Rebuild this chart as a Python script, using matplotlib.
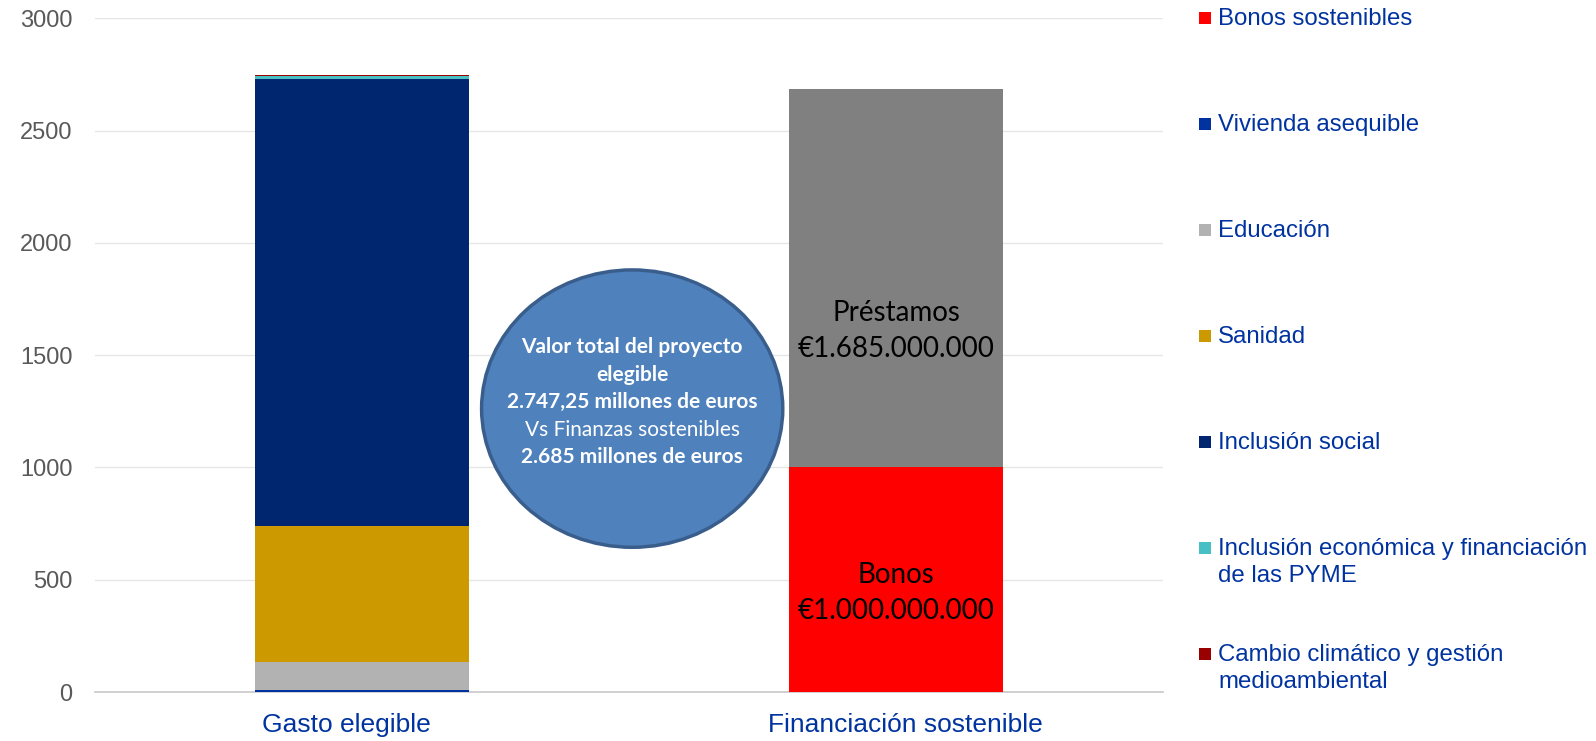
import matplotlib
matplotlib.use("Agg")
import matplotlib.pyplot as plt
from matplotlib.patches import Ellipse, Rectangle

# data
categories = ["Gasto elegible", "Financiación sostenible"]
gasto_labels = ["Vivienda asequible", "Educación", "Sanidad", "Inclusión social",
                "Inclusión económica y financiación\nde las PYME",
                "Cambio climático y gestión\nmedioambiental"]
gasto_values = [8, 125, 605, 1990.25, 15, 4]
gasto_colors = ["#0033A0", "#B2B2B2", "#CC9900", "#00266F", "#48BFC4", "#990000"]

fin_labels = ["Bonos\n€1.000.000.000", "Préstamos\n€1.685.000.000"]
fin_values = [1000, 1685]
fin_colors = ["#FF0000", "#808080"]
fin_label_pos = [0.44, 0.36]  # fraction of segment height for text

legend_labels = ["Bonos sostenibles", "Vivienda asequible", "Educación", "Sanidad",
                 "Inclusión social", "Inclusión económica y financiación\nde las PYME",
                 "Cambio climático y gestión\nmedioambiental"]
legend_colors = ["#FF0000", "#0033A0", "#B2B2B2", "#CC9900", "#00266F", "#48BFC4", "#990000"]

circle_lines = ["Valor total del proyecto", "elegible", "2.747,25 millones de euros",
                "Vs Finanzas sostenibles", "2.685 millones de euros"]
circle_bold = [True, True, True, False, True]

yticks = [0, 500, 1000, 1500, 2000, 2500, 3000]

fig = plt.figure(figsize=(15.96, 7.41), dpi=100)
ax = fig.add_axes([0.0595, 0.0661, 0.6692, 0.9092])

bw = 0.40
bottom = 0
for v, c in zip(gasto_values, gasto_colors):
    ax.bar(0, v, bw, bottom=bottom, color=c, zorder=3)
    bottom += v

bottom = 0
for v, c, lab, f in zip(fin_values, fin_colors, fin_labels, fin_label_pos):
    ax.bar(1, v, bw, bottom=bottom, color=c, zorder=3)
    ax.text(1, bottom + v * f, lab, ha="center", va="center", fontsize=20,
            family="Lato", color="black", zorder=4, linespacing=1.45)
    bottom += v

ax.set_xlim(-0.5, 1.5)
ax.set_ylim(0, 3000)
ax.set_yticks(yticks)
ax.set_xticks([0, 1])
ax.set_xticklabels([])
# category labels, excel puts them a bit off centre
for i, (cat, dx) in enumerate(zip(categories, [-11, 7])):
    ax.annotate(cat, xy=(i, 0), xycoords=("data", "axes fraction"),
                xytext=(dx, -24), textcoords="offset points", ha="center", va="center",
                fontsize=19, color="#0033A0", family="Liberation Sans")
for t in ax.get_yticklabels():
    t.set_fontsize(17)
    t.set_color("#595959")
    t.set_family("Liberation Sans")
ax.tick_params(axis="y", length=0, pad=16)
ax.tick_params(axis="x", length=0)
ax.grid(axis="y", color="#E6E6E6", linewidth=1, zorder=0)
for s in ["top", "right", "left"]:
    ax.spines[s].set_visible(False)
ax.spines["bottom"].set_color("#C8C8C8")
ax.spines["bottom"].set_linewidth(1.2)

# circle annotation
ell = Ellipse((0.506, 1262), 0.564, 1235, facecolor="#4F81BD", edgecolor="#3A5E8C",
              linewidth=2.5, zorder=5)
ax.add_patch(ell)
line_h = 27.5 / 0.2246
y0 = 1290 + 2 * line_h
for i, (ln, b) in enumerate(zip(circle_lines, circle_bold)):
    ax.text(0.506, y0 - i * line_h, ln, ha="center", va="center", fontsize=15,
            family="Lato", fontweight="bold" if b else "normal", color="white", zorder=6)

# legend
W, H = 1596, 741
ys = [18.3 + i * 105.9 for i in range(len(legend_labels))]
for lab, c, yc in zip(legend_labels, legend_colors, ys):
    fig.add_artist(Rectangle((1199 / W, 1 - (yc + 6) / H), 12 / W, 12 / H,
                             transform=fig.transFigure, facecolor=c, edgecolor="none"))
    for j, part in enumerate(lab.split("\n")):
        fig.text(1218 / W, 1 - (yc + 1 + j * 27.5) / H, part, ha="left", va="center",
                 fontsize=17.3, color="#0033A0", family="Liberation Sans")

fig.savefig("out.png", dpi=100)
